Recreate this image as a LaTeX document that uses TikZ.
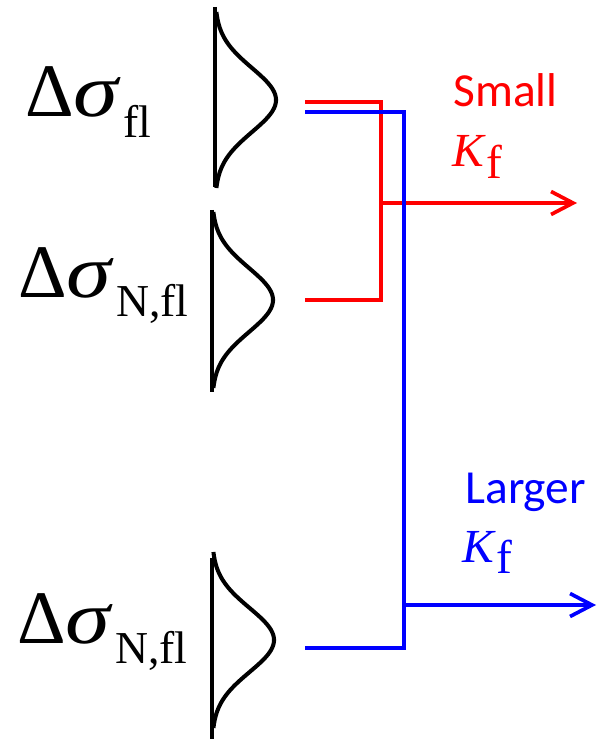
\documentclass[tikz,border=0pt]{standalone}
\usepackage{graphicx}
\usepackage{fontspec}
\setmainfont{Liberation Serif}
\newfontfamily\calibri{Carlito}
\usetikzlibrary{arrows.meta}

\begin{document}
\begin{tikzpicture}[x=0.02cm, y=-0.02cm,
	bell/.style = {line width=2.3pt},
	wire/.style = {line width=2.1pt},
	outarrow/.style = {-{Straight Barb[length=0.44cm, width=0.46cm]}},
	sym/.style = {inner sep=0pt, anchor=base west, font=\fontsize{43}{50}\selectfont},
	kf/.style = {inner sep=0pt, anchor=base west, font=\fontsize{27}{30}\selectfont},
	word/.style = {inner sep=0pt, anchor=base west, font=\calibri\fontsize{27}{30}\selectfont}]
	\useasboundingbox (0,0) rectangle (597,739);
	% labels
	\node [sym] (lab1) at (25,117) {Δ\scalebox{1.2}[1]{\textit{σ}}\kern1pt\raisebox{-0.42cm}{\fontsize{26}{28}\selectfont fl}};
	\node [sym] (lab2) at (18,297) {Δ\scalebox{1.2}[1]{\textit{σ}}\kern1pt\raisebox{-0.4cm}{\fontsize{26}{28}\selectfont N,fl}};
	\node [sym] (lab3) at (17,643) {Δ\scalebox{1.2}[1]{\textit{σ}}\kern1pt\raisebox{-0.4cm}{\fontsize{26}{28}\selectfont N,fl}};
	% distributions
	\draw [bell] (215,7) -- (215,187);
	\draw [bell] plot [domain=-88:88, samples=80] ({215+61*exp(-((\x/32)^2)/2)}, {100+\x});
	\draw [bell] (212,210) -- (212,392);
	\draw [bell] plot [domain=-88:88, samples=80] ({212+61*exp(-((\x/32)^2)/2)}, {300+\x});
	\draw [bell] (212,558) -- (212,739);
	\draw [bell] plot [domain=-88:88, samples=80] ({212+62*exp(-((\x/32)^2)/2)}, {640+\x});
	% connector points
	\coordinate (out1r) at (305,102);
	\coordinate (out1b) at (305,112);
	\coordinate (out2) at (305,300);
	\coordinate (out3) at (305,648);
	\coordinate (jr) at (381,203);
	\coordinate (jb) at (404,605);
	\coordinate (endr) at (577,203);
	\coordinate (endb) at (596,605);
	% small K_f
	\draw [wire, red] (out1r) -| (jr) |- (out2);
	\draw [wire, red, outarrow] (jr) -- (endr);
	\node [word, text=red] (small) at (453,107) {Small};
	\node [kf, text=red] (kfr) at (452,167) {\textit{K}\raisebox{-0.23cm}{f}};
	% larger K_f
	\draw [wire, blue] (out1b) -| (jb) |- (out3);
	\draw [wire, blue, outarrow] (jb) -- (endb);
	\node [word, text=blue] (larger) at (465,503) {Larger};
	\node [kf, text=blue] (kfb) at (462,562) {\textit{K}\raisebox{-0.23cm}{f}};
\end{tikzpicture}
\end{document}
